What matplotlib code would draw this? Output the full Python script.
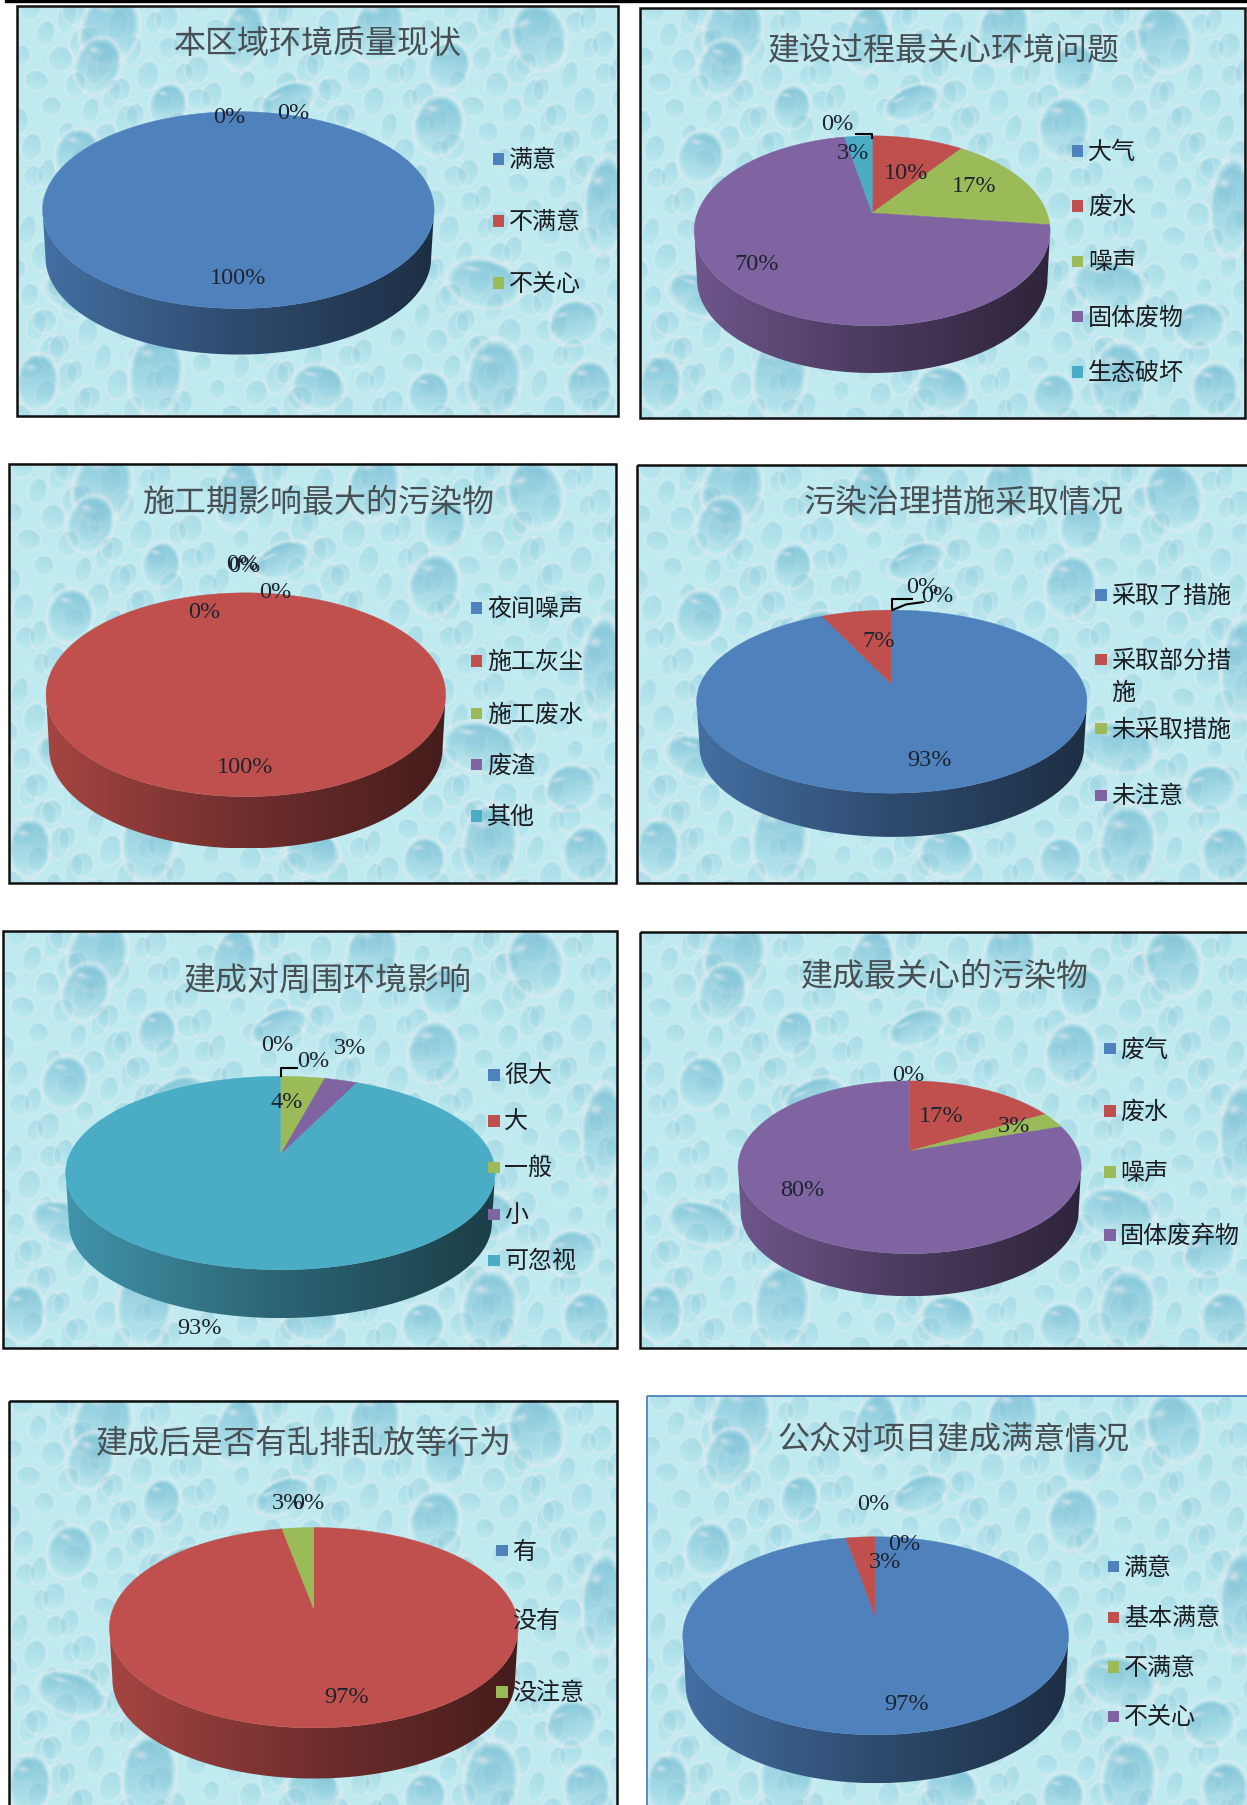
import numpy as np
import matplotlib
matplotlib.use('Agg')
import matplotlib.pyplot as plt
from matplotlib.patches import Polygon, Rectangle

plt.rcParams['font.family'] = ['Noto Sans CJK SC', 'DejaVu Sans']

TITLES = ['本区域环境质量现状', '建设过程最关心环境问题', '施工期影响最大的污染物', '污染治理措施采取情况',
          '建成对周围环境影响', '建成最关心的污染物', '建成后是否有乱排乱放等行为', '公众对项目建成满意情况']

cats_quality = ['满意', '不满意', '不关心']
vals_quality = [100, 0, 0]
cats_concern = ['大气', '废水', '噪声', '固体废物', '生态破坏']
vals_concern = [0, 10, 17, 70, 3]
cats_pollutant = ['夜间噪声', '施工灰尘', '施工废水', '废渣', '其他']
vals_pollutant = [0, 100, 0, 0, 0]
cats_measures = ['采取了措施', '采取部分措\n施', '未采取措施', '未注意']
vals_measures = [93, 7, 0, 0]
cats_impact = ['很大', '大', '一般', '小', '可忽视']
vals_impact = [0, 0, 4, 3, 93]
cats_after = ['废气', '废水', '噪声', '固体废弃物']
vals_after = [0, 17, 3, 80]
cats_dumping = ['有', '没有', '没注意']
vals_dumping = [0, 97, 3]
cats_public = ['满意', '基本满意', '不满意', '不关心']
vals_public = [97, 3, 0, 0]

COLORS = ['#4F81BD', '#C0504D', '#9BBB59', '#8064A2', '#4BACC6']
TILT = 0.188  # how far the pie centre sits above the middle of the ellipse
W, H = 1083, 1568

# frame, title centre, pie box (left, right, top, face bottom, wall depth),
# legend x, legend rows, label positions, leader lines, edge colour
PANELS = [
    dict(cats=cats_quality, vals=vals_quality, frame=(15, 5, 537, 361), title=(276, 38),
         pie=(37, 377, 97, 268, 40), leg_x=433, leg_y=[138, 192, 246],
         labels=[(207, 241), (199, 101), (255, 98)], leaders=[]),
    dict(cats=cats_concern, vals=vals_concern, frame=(556, 7, 1081, 363), title=(820, 44),
         pie=(603, 912, 118, 283, 41), leg_x=936, leg_y=[131, 179, 227, 275, 323],
         labels=[(727, 107), (787, 150), (846, 161), (657, 229), (741, 132)],
         leaders=[[(743, 116), (757, 116), (757, 120)]]),
    dict(cats=cats_pollutant, vals=vals_pollutant, frame=(8, 403, 535, 767), title=(277, 437),
         pie=(40, 387, 515, 692, 45), leg_x=414, leg_y=[528, 574, 620, 664, 709],
         labels=[(210, 489), (213, 666), (239, 514), (177, 531), (212, 491)], leaders=[]),
    dict(cats=cats_measures, vals=vals_measures, frame=(553, 404, 1090, 767), title=(837, 437),
         pie=(605, 944, 530, 689, 38), leg_x=956, leg_y=[517, 573, 633, 691],
         labels=[(807, 660), (763, 556), (801, 509), (814, 517)],
         leaders=[[(775, 528), (775, 520), (792, 520)], [(775, 530), (787, 525), (802, 523)]]),
    dict(cats=cats_impact, vals=vals_impact, frame=(3, 809, 536, 1171), title=(285, 852),
         pie=(57, 430, 935, 1103, 42), leg_x=429, leg_y=[934, 974, 1014, 1055, 1095],
         labels=[(241, 907), (272, 921), (249, 957), (304, 910), (173, 1153)],
         leaders=[[(244, 935), (244, 928), (258, 928)]]),
    dict(cats=cats_after, vals=vals_after, frame=(556, 810, 1090, 1171), title=(821, 849),
         pie=(641, 939, 939, 1089, 37), leg_x=964, leg_y=[911, 965, 1018, 1073],
         labels=[(789, 933), (817, 969), (881, 978), (697, 1033)], leaders=[]),
    dict(cats=cats_dumping, vals=vals_dumping, frame=(8, 1217, 536, 1580), title=(264, 1254),
         pie=(95, 450, 1327, 1501, 44), leg_x=436, leg_y=[1347, 1407, 1470],
         labels=[(268, 1305), (301, 1474), (250, 1305)], leaders=[]),
    dict(cats=cats_public, vals=vals_public, frame=(562, 1213, 1090, 1580), title=(828, 1251),
         pie=(593, 928, 1335, 1507, 42), leg_x=967, leg_y=[1361, 1405, 1448, 1491],
         labels=[(787, 1480), (769, 1356), (758, 1306), (785, 1341)], leaders=[], edge='#4F81BD'),
]

# large drops of the wallpaper: x, y, half width, half height, lean (px in a 600x415 tile)
BIG_DROPS = [(138, 372, 26, 40, 0.1), (475, 376, 26, 38, 0.1), (586, 201, 20, 48, 0.05),
             (92, 22, 28, 36, 0.3), (225, 30, 20, 34, 0.2), (360, 22, 24, 34, 0.25),
             (520, 30, 26, 34, -0.3), (270, 95, 28, 16, -0.4), (420, 120, 24, 30, 0.2),
             (60, 150, 22, 26, 0.3), (170, 165, 30, 18, -0.4), (310, 190, 24, 26, 0.25),
             (465, 280, 36, 24, 0.2), (60, 290, 34, 20, 0.3), (210, 280, 20, 32, 0.2),
             (350, 300, 30, 18, -0.4), (555, 320, 24, 22, -0.3), (300, 385, 26, 22, 0.2),
             (20, 380, 20, 28, 0.1), (410, 392, 20, 22, 0.2), (570, 385, 22, 26, 0.1),
             (80, 60, 22, 28, 0.35), (430, 60, 20, 24, 0.3), (150, 100, 18, 22, 0.2)]
JITTER = [(5, -7), (-9, 4), (2, 10), (11, 3), (-4, -11), (8, 8), (-11, -2)]


def stamp_drop(img, x0, y0, a, b, lean, strength):
    h, w = img.shape[:2]
    x1, x2 = max(int(x0 - 2 * a - 30), 0), min(int(x0 + 2 * a + 30), w)
    y1, y2 = max(int(y0 - 2 * b - 30), 0), min(int(y0 + 2 * b + 30), h)
    if x1 >= x2 or y1 >= y2:
        return
    yy, xx = np.mgrid[y1:y2, x1:x2]
    dx, dy = xx - x0, yy - y0
    u = (dx * np.cos(lean) + dy * np.sin(lean)) / a
    v = (-dx * np.sin(lean) + dy * np.cos(lean)) / b
    d = u ** 2 + v ** 2
    body = np.clip((1.0 - d) / 0.35, 0, 1)
    dark = body * np.clip(0.6 - 0.5 * v, 0, 1) * strength
    rim = np.exp(-((d - 1.12) / 0.16) ** 2) * 0.5
    glint = np.exp(-(((u + 0.42) / 0.26) ** 2 + ((v + 0.5) / 0.1) ** 2)) * 0.8 * strength
    patch = img[y1:y2, x1:x2]
    for c, tone in enumerate((120, 190, 212)):
        patch[..., c] += (tone - patch[..., c]) * dark
        patch[..., c] += (230 + c * 5 - patch[..., c]) * np.clip(rim + glint, 0, 1)


def wallpaper(w=600, h=415):
    img = np.zeros((h, w, 3)) + np.array([190.0, 234.0, 240.0])
    n = 0
    for row, y in enumerate(range(8, h + 20, 26)):
        for x in range(8 + (row % 2) * 15, w + 20, 30):
            jx, jy = JITTER[n % len(JITTER)]
            n += 3
            stamp_drop(img, x + jx, y + jy, 8 + (n % 5), 10 + (n % 7), 0.25, 0.3)
    for x0, y0, a, b, lean in BIG_DROPS:
        stamp_drop(img, x0, y0, a, b, lean, 0.72)
    return np.clip(img, 0, 255).astype(np.uint8)


def project(phi, hw, ry_top, ry_bottom, cx, cy):
    # clockwise angle from 12 o'clock on the disc to canvas coordinates
    bx, by = np.sin(phi), np.cos(phi)
    ry = (ry_top + ry_bottom) * (1 - TILT ** 2) / 2
    rx = hw * np.sqrt(1 - TILT ** 2)
    return cx + rx * bx / (1 + TILT * by), cy - ry * by / (1 + TILT * by)


def shade(color):
    # dark-to-darker sweep along the wall, left to right
    rgb = np.array(matplotlib.colors.to_rgb(color))
    ramp = np.interp(np.linspace(0, 1, 256), [0, 0.5, 1], [0.86, 0.58, 0.36])
    return (ramp[None, :, None] * rgb[None, None, :]).clip(0, 1)


def draw_pie(ax, vals, box):
    left, right, top, bottom, depth = box
    cx, hw = (left + right) / 2, (right - left) / 2
    span = bottom - top
    up, down = span * (1 - TILT) / 2, span * (1 + TILT) / 2
    cy = top + up
    edges = np.radians(np.cumsum([0] + list(vals)) * 3.6)
    front_a = np.arccos(-TILT)
    front_b = 2 * np.pi - front_a
    shrink = 0.985
    low_cy = cy + down * (1 - shrink) + depth

    # wall first, only what faces the viewer
    for i, (a, b) in enumerate(zip(edges[:-1], edges[1:])):
        a2, b2 = max(a, front_a), min(b, front_b)
        if b2 <= a2:
            continue
        phi = np.linspace(a2, b2, 200)
        xt, yt = project(phi, hw, up, down, cx, cy)
        xb, yb = project(phi[::-1], hw * shrink, up * shrink, down * shrink, cx, low_cy)
        wall = Polygon(np.column_stack([np.r_[xt, xb], np.r_[yt, yb]]), closed=True, fc='none', ec='none')
        ax.add_patch(wall)
        im = ax.imshow(shade(COLORS[i % 5]), extent=(left, right, bottom + depth, top), aspect='auto', zorder=3)
        im.set_clip_path(wall)

    # top face, apex sits off the ellipse centre
    for i, (a, b) in enumerate(zip(edges[:-1], edges[1:])):
        if b <= a:
            continue
        phi = np.linspace(a, b, 300)
        xs, ys = project(phi, hw, up, down, cx, cy)
        pts = np.column_stack([xs, ys])
        if b - a < 2 * np.pi - 1e-6:
            pts = np.vstack([[cx, cy], pts])
        ax.add_patch(Polygon(pts, closed=True, fc=COLORS[i % 5], ec=COLORS[i % 5], lw=0.3, zorder=4))


fig = plt.figure(figsize=(12.47, 18.05), dpi=100, facecolor='white')
ax = fig.add_axes([0, 0, 1, 1])
ax.axis('off')

tile = wallpaper()
ax.plot([5, W], [0.8, 0.8], color='black', lw=2.4, zorder=10)

for idx, p in enumerate(PANELS):
    x0, y0, x1, y1 = p['frame']
    ax.imshow(tile, extent=(x0, x1, y1, y0), aspect='auto', zorder=1, interpolation='bilinear')
    ax.add_patch(Rectangle((x0, y0), x1 - x0, y1 - y0, fc='none', ec=p.get('edge', '#101010'),
                           lw=1.3 if 'edge' in p else 1.8, zorder=2))
    ax.text(p['title'][0], p['title'][1], TITLES[idx], fontsize=23, color='#465054',
            ha='center', va='center', zorder=6)

    draw_pie(ax, p['vals'], p['pie'])

    for line in p['leaders']:
        xs, ys = zip(*line)
        ax.plot(xs, ys, color='black', lw=1.5, zorder=6)

    for v, (lx, ly) in zip(p['vals'], p['labels']):
        ax.text(lx, ly + 1, f'{v}%', fontsize=17.5, color='#1c2430', ha='center', va='center',
                family=['Liberation Serif', 'DejaVu Sans'], zorder=7)

    for i, (cat, ly) in enumerate(zip(p['cats'], p['leg_y'])):
        ax.add_patch(Rectangle((p['leg_x'] - 5, ly - 5), 10, 10, fc=COLORS[i % 5], ec='none', zorder=5))
        # a wrapped entry keeps its first line on the marker row
        ax.text(p['leg_x'] + 9, ly - 10.5, cat, fontsize=17.3, color='#1a1e22', ha='left', va='top',
                linespacing=1.3, zorder=7)

ax.set_xlim(0, W)
ax.set_ylim(H, 0)
fig.savefig('out.png', dpi=100)
